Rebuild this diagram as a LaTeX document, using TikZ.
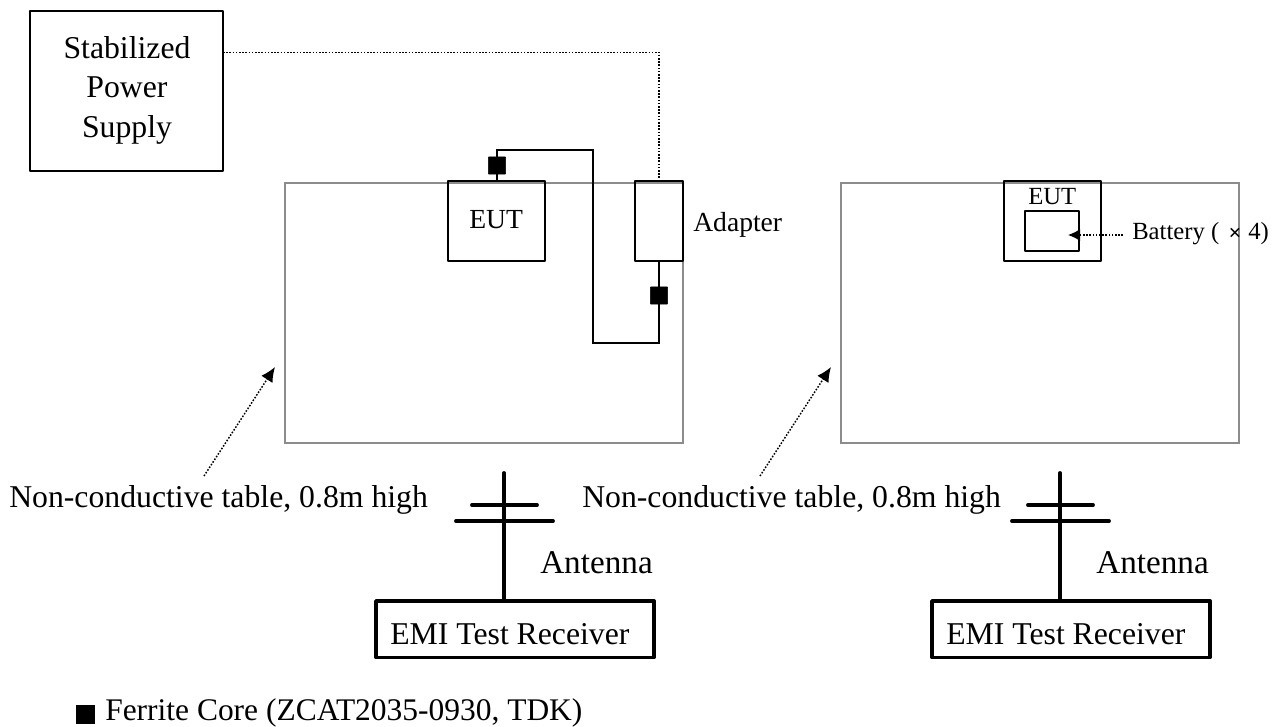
\documentclass[tikz,border=0pt]{standalone}
\usepackage{fontspec}
\setmainfont{Liberation Serif}
\usetikzlibrary{arrows.meta}
\tikzset{
 x=0.75pt,y=-0.75pt,
 lab/.style={inner sep=0pt,anchor=base west,font=\fontsize{23.8}{26}\selectfont},
 clab/.style={inner sep=0pt,anchor=base,font=\fontsize{23.8}{26}\selectfont},
 antlab/.style={inner sep=0pt,anchor=base west,font=\fontsize{24.9}{27}\selectfont},
 midlab/.style={inner sep=0pt,anchor=base west,font=\fontsize{20.7}{24}\selectfont},
 smalllab/.style={inner sep=0pt,anchor=base west,font=\fontsize{18.5}{22}\selectfont},
 blk/.style={draw=black,line width=1.5pt,line join=round},
 tbl/.style={draw=black!45,line width=1.4pt},
 wire/.style={draw=black,line width=1.3pt},
 dots/.style={draw=black,line width=1.1pt,dash pattern=on 1.2pt off 1.2pt},
 core/.style={fill=black,draw=black,rounded corners=0.5pt,minimum size=13pt,inner sep=0},
 heavy/.style={draw=black,line width=2.9pt,line cap=round},
 rxbox/.style={draw=black,line width=2.9pt,line join=round},
}
\begin{document}
\begin{tikzpicture}
\useasboundingbox (0,0) rectangle (1277,727);
% tables
\draw[tbl] (285,183) rectangle (683,443);
\draw[tbl] (841,183) rectangle (1239,443);
% power supply
\draw[blk] (30,11.5) rectangle (222.5,171.5);
\node[clab] (s1) at (127,59) {Stabilized};
\node[clab] (s2) at (127,98) {Power};
\node[clab] (s3) at (127,138) {Supply};
% EUT left
\draw[blk] (448,181) rectangle (545,261);
\node[midlab] (eut1) at (469,229) {EUT};
% adapter
\draw[blk] (635,181) rectangle (683,261);
\coordinate (psout) at (223,52.5);
\coordinate (adtop) at (659,181);
\coordinate (adbot) at (659,261);
\coordinate (euttop) at (497,181);
\coordinate (w1) at (497,150);
\coordinate (w2) at (593,150);
\coordinate (w3) at (593,343);
\coordinate (w4) at (659,343);
\draw[dots] (psout) -- (659,52.5) -- (adtop);
\draw[wire] (euttop) -- (w1) -- (w2) -- (w3) -- (w4) -- (adbot);
\node[core] (c1) at (497,165.5) {};
\node[core] (c2) at (659,295.5) {};
\node[midlab] (adl) at (693,232) {Adapter};
% EUT right
\draw[blk] (1004,181) rectangle (1101,261);
\draw[blk] (1025,211) rectangle (1079,251);
\node[smalllab] (eut2) at (1028,205) {EUT};
\coordinate (batt) at (1068,235);
\coordinate (battl) at (1123,235);
\draw[dots,-{Latex[length=9pt,width=9pt]}] (battl) -- (batt);
\node[smalllab] (bl) at (1132,240) {Battery (};
\node[font=\fontsize{17}{18}\selectfont\bfseries,inner sep=0] (tm) at (1235,234) {×};
\node[smalllab] (bl4) at (1248,240) {4)};
% table labels
\node[lab] (t1) at (9,507) {Non-conductive table, 0.8m high};
\node[lab] (t2) at (582,507) {Non-conductive table, 0.8m high};
\coordinate (a1) at (204,476);
\coordinate (a1h) at (275,367);
\coordinate (a2) at (760,476);
\coordinate (a2h) at (831,367);
\draw[dots,-{Latex[length=11pt,width=10pt]}] (a1) -- (a1h);
\draw[dots,-{Latex[length=11pt,width=10pt]}] (a2) -- (a2h);
% antennas
\foreach \n/\x in {l/504,r/1060}{
 \draw[rxbox] (\x-128,601) rectangle (\x+150,657.5);
 \coordinate (top\n) at (\x,473);
 \coordinate (bot\n) at (\x,601);
 \draw[heavy] (top\n) -- (bot\n);
 \draw[heavy] (\x-32,505) -- (\x+33,505);
 \draw[heavy] (\x-48,521) -- (\x+49,521);
}
\node[antlab] (an1) at (540,573) {Antenna};
\node[antlab] (an2) at (1096,573) {Antenna};
\node[lab] (r1) at (390,644.5) {EMI Test Receiver};
\node[lab] (r2) at (946,644.5) {EMI Test Receiver};
% legend
\node[fill=black,minimum size=14pt,inner sep=0] (leg) at (85.5,714.5) {};
\node[lab,font=\fontsize{23.6}{26}\selectfont] (legt) at (105,720) {Ferrite Core (ZCAT2035-0930, TDK)};
\end{tikzpicture}
\end{document}
